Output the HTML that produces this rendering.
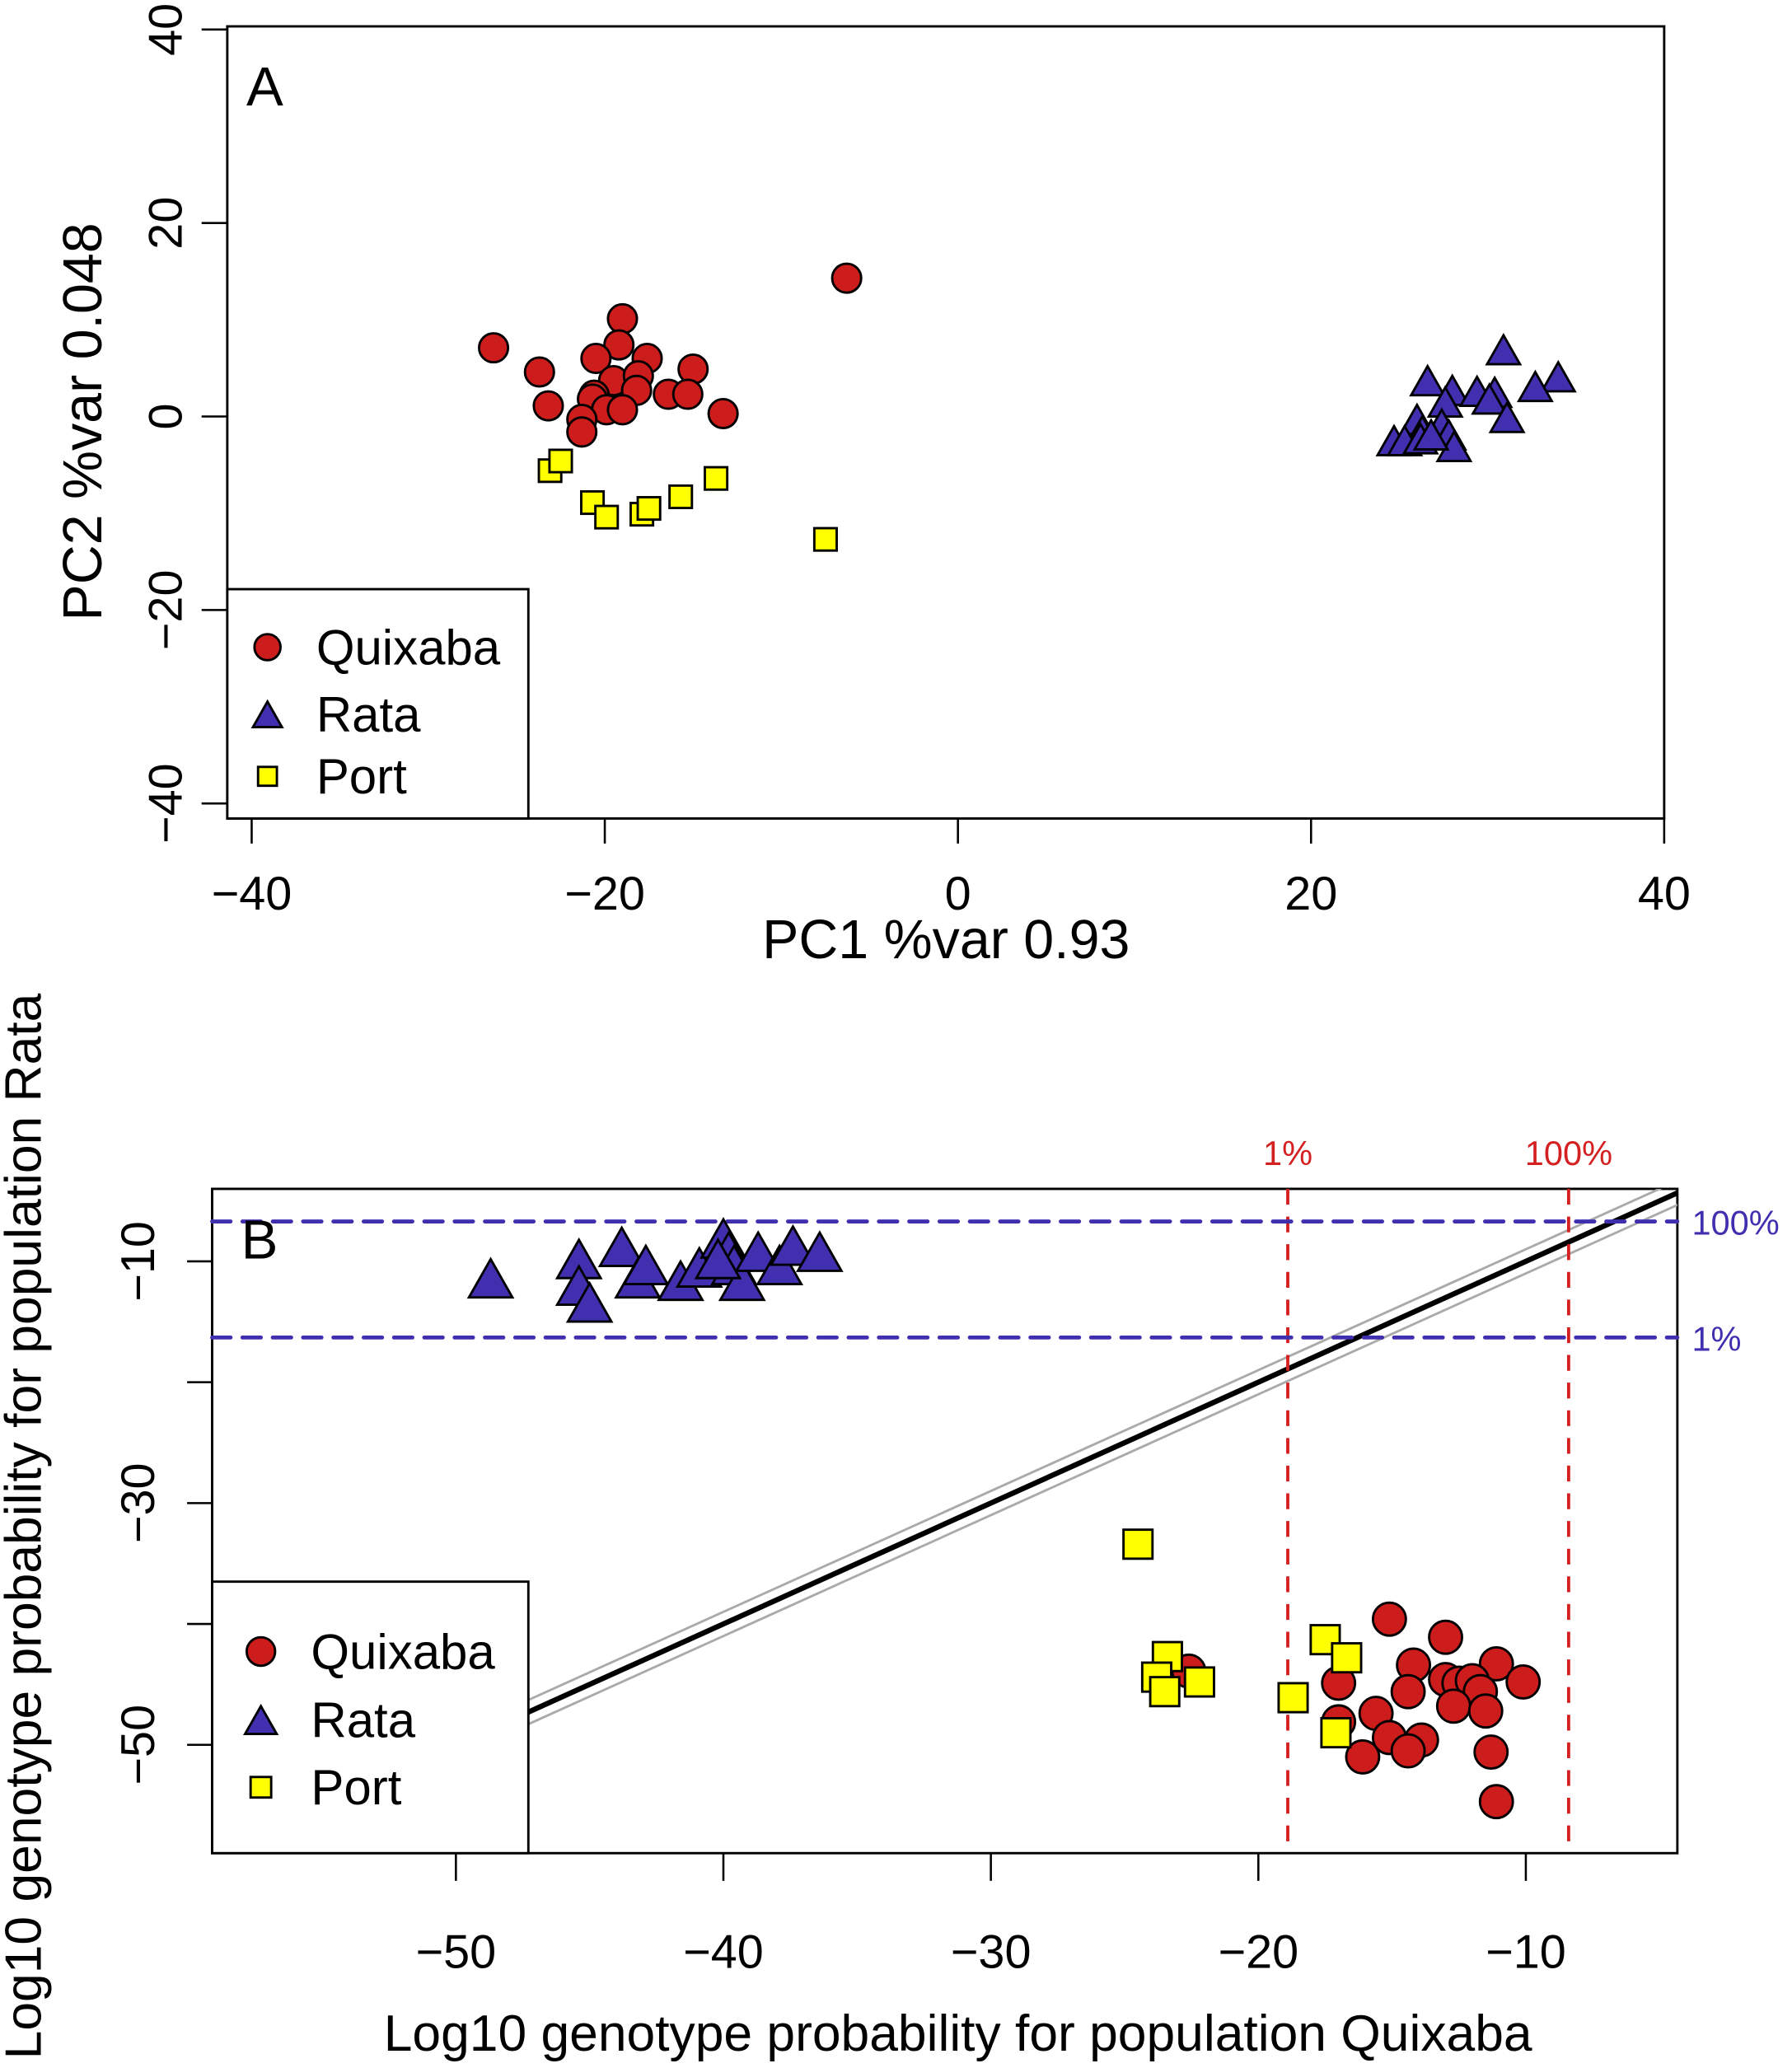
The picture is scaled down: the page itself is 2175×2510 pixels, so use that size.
<!DOCTYPE html>
<html><head><meta charset="utf-8"><style>
html,body{margin:0;padding:0;background:#fff}
svg{display:block}
text{font-family:"Liberation Sans",sans-serif;fill:#000}
</style></head><body>
<svg id="fig" width="2175" height="2510" viewBox="0 0 1360 1569" preserveAspectRatio="none" xmlns="http://www.w3.org/2000/svg">
<g id="pa"></g>
<g id="pb"></g>
</svg>
<script>
// Panel A data
const aQuixX=[-26.3,-23.7,-23.2,-6.3,-19.0,-19.2,-20.5,-17.6,-15.0,-19.5,-18.1,-18.2,-20.6,-20.7,-16.4,-15.3,-19.9,-19.0,-21.3,-21.3,-13.3];
const aQuixY=[7.1,4.6,1.1,14.3,10.1,7.4,6.0,6.0,4.9,3.7,4.2,2.7,2.2,1.8,2.3,2.3,0.7,0.7,-0.3,-1.6,0.3];
const aRataX=[30.9,34.0,32.7,26.6,28.0,29.4,30.4,30.1,27.6,31.1,26.0,27.4,26.3,24.7,25.3,26.2,27.8,28.1,26.8];
const aRataY=[6.9,4.1,3.1,3.7,2.7,2.6,2.5,1.8,1.5,-0.1,-0.3,-0.8,-1.5,-2.5,-2.5,-2.3,-1.9,-3.1,-1.9];
const aPortX=[-23.1,-22.5,-20.7,-19.9,-17.9,-17.5,-15.7,-13.7,-7.5];
const aPortY=[-5.6,-4.6,-8.9,-10.4,-10.1,-9.5,-8.3,-6.4,-12.7];
const aXTicks=[-40,-20,0,20,40];
const aYTicks=[-40,-20,0,20,40];
// Panel B data
const bRataX=[-48.7,-45.4,-45.4,-45.0,-43.8,-43.2,-42.9,-41.6,-40.9,-40.0,-39.8,-39.6,-39.3,-38.7,-37.9,-37.4,-36.4,-40.2];
const bRataY=[-11.4,-9.8,-12.0,-13.4,-8.8,-11.4,-10.3,-11.6,-10.5,-8.1,-9.2,-10.3,-11.6,-9.2,-10.3,-8.7,-9.2,-9.8];
const bQuixX=[-15.1,-13.0,-14.2,-11.1,-17.0,-14.4,-13.0,-12.5,-12.0,-11.7,-10.1,-12.7,-11.5,-15.6,-17.0,-15.1,-13.9,-16.1,-14.4,-11.3,-11.1,-22.6];
const bQuixY=[-39.6,-41.1,-43.4,-43.3,-44.9,-45.6,-44.6,-44.9,-44.7,-45.6,-44.8,-46.8,-47.2,-47.4,-48.1,-49.4,-49.6,-51.0,-50.5,-50.6,-54.7,-43.9];
const bPortX=[-24.5,-17.5,-16.7,-23.4,-23.8,-23.5,-22.2,-18.7,-17.1];
const bPortY=[-33.4,-41.3,-42.8,-42.7,-44.4,-45.6,-44.8,-46.1,-49.0];
const bXTicks=[-50,-40,-30,-20,-10];
const bYTicks=[-10,-30,-50];
const bYTicksMinor=[-20,-40];
const thrQuix=[-18.9,-8.4];
const thrRata=[-6.7,-16.3];
const thrLabels=["1%","100%"];

const NS="http://www.w3.org/2000/svg";
function el(parent,tag,attrs,txt){const e=document.createElementNS(NS,tag);for(const k in attrs)e.setAttribute(k,attrs[k]);if(txt!==undefined)e.textContent=txt;parent.appendChild(e);return e;}
const RED="#cc1c1c",BLUE="#4030b0",YEL="#ffff00";

// ---------- Panel A ----------
const pa=document.getElementById('pa');
const ax=v=>727+v*13.4, ay=v=>316-v*7.34;
let r=el(pa,'rect',{x:172.5,y:20,width:1090.5,height:601,fill:'none',stroke:'#000','stroke-width':1.8});


aXTicks.forEach(v=>{
  let t=el(pa,'line',{x1:ax(v),x2:ax(v),y1:621,y2:640,stroke:'#000','stroke-width':1.6});
  
  
  let l=el(pa,'text',{x:ax(v),y:690,'text-anchor':'middle','font-size':36},String(v).replace('-','\u2212'));
  
  
});
aYTicks.forEach(v=>{
  let t=el(pa,'line',{x1:153,x2:172.5,y1:ay(v),y2:ay(v),stroke:'#000','stroke-width':1.6});
  
  
  let l=el(pa,'text',{x:0,y:0,'text-anchor':'middle','font-size':36,transform:`translate(138,${ay(v)}) rotate(-90)`},String(v).replace('-','\u2212'));
  
  
});
let t1=el(pa,'text',{x:718,y:727,'text-anchor':'middle','font-size':41.5},'PC1 %var 0.93');


let t2=el(pa,'text',{x:0,y:0,'text-anchor':'middle','font-size':41.5,transform:'translate(77,320) rotate(-90)'},'PC2 %var 0.048');


let la=el(pa,'text',{x:187,y:80,'font-size':42},'A');



function circ(g,x,y,rad,name){const c=el(g,'circle',{cx:x,cy:y,r:rad,fill:RED,stroke:'#000','stroke-width':1.8});return c;}
function tri(g,x,y,w,name){const h=w*0.88;const p=el(g,'polygon',{points:`${x-w/2},${y+h/2} ${x+w/2},${y+h/2} ${x},${y-h/2}`,fill:BLUE,stroke:'#000','stroke-width':1.8,'stroke-linejoin':'miter'});return p;}
function sq(g,x,y,s,name){const q=el(g,'rect',{x:x-s/2,y:y-s/2,width:s,height:s,fill:YEL,stroke:'#000','stroke-width':1.8});return q;}

aQuixX.forEach((v,i)=>circ(pa,ax(v),ay(aQuixY[i]),11,'quixaba-point-a'));
aRataX.forEach((v,i)=>tri(pa,ax(v),ay(aRataY[i]),25,'rata-point-a'));
aPortX.forEach((v,i)=>sq(pa,ax(v),ay(aPortY[i]),17,'port-point-a'));

function legend(g,x0,y0,x1,y1,sx,tx,rows,sc,suffix){
  const lg=el(g,'g',{});
  
  
  el(lg,'rect',{x:x0,y:y0,width:x1-x0,height:y1-y0,fill:'#fff',stroke:'#000','stroke-width':1.8});
  const names=['Quixaba','Rata','Port'];
  names.forEach((n,i)=>{
    const e=el(lg,'g',{});
    
    
    if(i==0)circ(e,sx,rows[i],sc*0.45,'legend-symbol');
    if(i==1)tri(e,sx,rows[i],sc,'legend-symbol');
    if(i==2)sq(e,sx,rows[i],sc*0.65,'legend-symbol');
    el(e,'text',{x:tx,y:rows[i]+13,'font-size':37.5},n);
  });
}
legend(pa,172.5,447,401,621,203,240,[491,542,589],22,'a');

// ---------- Panel B ----------
const pb=document.getElementById('pb');
const bx=v=>1158+(v+10)*20.3, by=v=>957-(v+10)*9.17;
const L=161,R=1273,T=902,B=1406;
let rb=el(pb,'rect',{x:L,y:T,width:R-L,height:B-T,fill:'#fff',stroke:'#000','stroke-width':1.8});


bXTicks.forEach(v=>{
  let t=el(pb,'line',{x1:bx(v),x2:bx(v),y1:B,y2:B+21,stroke:'#000','stroke-width':1.6});
  
  
  let l=el(pb,'text',{x:bx(v),y:1493,'text-anchor':'middle','font-size':36},String(v).replace('-','\u2212'));
  
  
});
bYTicks.concat(bYTicksMinor).forEach(v=>{
  let t=el(pb,'line',{x1:L-19,x2:L,y1:by(v),y2:by(v),stroke:'#000','stroke-width':1.6});
  
  
});
bYTicks.forEach(v=>{
  let l=el(pb,'text',{x:0,y:0,'text-anchor':'middle','font-size':36,transform:`translate(117,${by(v)}) rotate(-90)`},String(v).replace('-','\u2212'));
  
  
});
let tb1=el(pb,'text',{x:727,y:1556,'text-anchor':'middle','font-size':39},'Log10 genotype probability for population Quixaba');


let tb2=el(pb,'text',{x:0,y:0,'text-anchor':'middle','font-size':39,transform:'translate(31,1158) rotate(-90)'},'Log10 genotype probability for population Rata');



// clip for lines
const defs=el(pb,'defs',{});
const cp=el(defs,'clipPath',{id:'clipb'});
el(cp,'rect',{x:L,y:T,width:R-L,height:B-T});
const lines=el(pb,'g',{'clip-path':'url(#clipb)'});
const lo=-60,hi=-4.3;
[[1,'#aaa',1.8,'upper-bound-line'],[-1,'#aaa',1.8,'lower-bound-line'],[0,'#000',4,'equality-line']].forEach(d=>{
  const ln=el(lines,'line',{x1:bx(lo),y1:by(lo+d[0]),x2:bx(hi+1),y2:by(hi+1+d[0]),stroke:d[1],'stroke-width':d[2]});
  
  
});
thrQuix.forEach((v,i)=>{
  const ln=el(pb,'line',{x1:bx(v),x2:bx(v),y1:T,y2:B,stroke:'#d42020','stroke-width':2.4,'stroke-dasharray':'12 9'});
  
  
  const t=el(pb,'text',{x:bx(v),y:884,'text-anchor':'middle','font-size':26,style:'fill:#d42020'},thrLabels[i]);
  
  
});
thrRata.forEach((v,i)=>{
  const ln=el(pb,'line',{x1:L,x2:R,y1:by(v),y2:by(v),stroke:BLUE,'stroke-width':3,'stroke-dasharray':'14 9','stroke-linecap':'round'});
  
  
  const t=el(pb,'text',{x:1284,y:by(v)+10,'font-size':26,style:'fill:'+BLUE},thrLabels[1-i]);
  
  
});
let lb=el(pb,'text',{x:183,y:955,'font-size':42},'B');



bRataX.forEach((v,i)=>tri(pb,bx(v),by(bRataY[i]),33,'rata-point-b'));
bQuixX.forEach((v,i)=>circ(pb,bx(v),by(bQuixY[i]),12.5,'quixaba-point-b'));
bPortX.forEach((v,i)=>sq(pb,bx(v),by(bPortY[i]),22,'port-point-b'));

legend(pb,L,1200,401,B,198,236,[1253,1305,1356],24,'b');
</script>
</body></html>
